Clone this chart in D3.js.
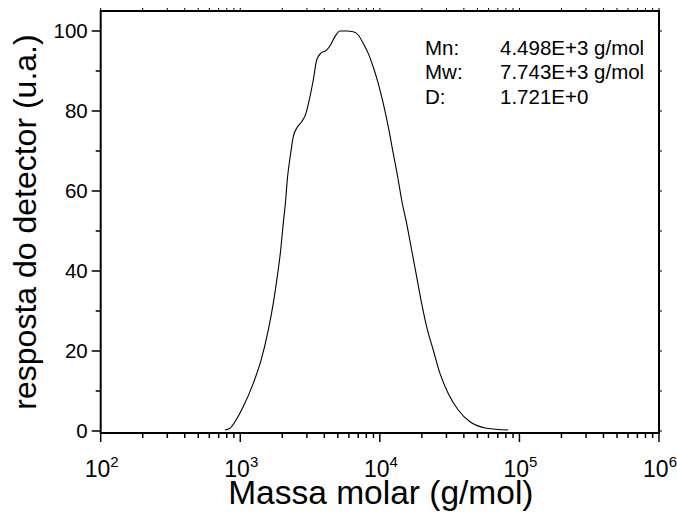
<!DOCTYPE html>
<html>
<head>
<meta charset="utf-8">
<script src="https://cdn.jsdelivr.net/npm/d3@7"></script>
<style>
  html, body { margin: 0; padding: 0; background: #fff; }
  svg { display: block; font-family: "Liberation Sans", Arial, sans-serif; }
</style>
</head>
<body>
<svg id="chart" width="677" height="515"></svg>
<script>
// Molar mass distribution (GPC) – detector response vs. molar mass
const molarMass = [776, 844, 916, 1051, 1239, 1423, 1587, 1723, 1841, 1947, 2032, 2115,
  2171, 2296, 2398, 2535, 2754, 2955, 3121, 3334, 3526, 3767, 4111, 4390, 4768, 5177,
  5783, 6449, 7003, 7605, 8259, 8969, 9739, 10577, 11487, 12474, 13547, 14326, 15557,
  16896, 18348, 19926, 21637, 24130, 26950, 30903, 36440, 44200, 58210, 83170];
const response = [0.25, 0.7, 2.3, 6.1, 11.9, 18.2, 25.2, 31.9, 38.6, 45.2, 51.9, 57.75,
  62.75, 69.4, 73.6, 75.7, 77.3, 79.4, 82.75, 87.75, 92.75, 94.4, 95.1, 96.25, 98.6, 100,
  100, 99.8, 99, 96.9, 94.4, 91, 86.9, 81.9, 76.1, 69.4, 62.75, 57.75, 51.9, 45.25,
  38.6, 31.9, 26.1, 20.25, 14.4, 9.4, 5.25, 2.3, 0.7, 0.25];

const xMajorExponents = [2, 3, 4, 5, 6];
const yMajorTicks = [0, 20, 40, 60, 80, 100];
const yMinorTicks = [10, 30, 50, 70, 90];

const statLabels = ["Mn:", "Mw:", "D:"];
const statValues = ["4.498E+3 g/mol", "7.743E+3 g/mol", "1.721E+0"];

const xTitle = "Massa molar (g/mol)";
const yTitle = "resposta do detector (u.a.)";

const svg = d3.select("#chart");
const plotLeft = 100.7, plotRight = 659, plotTop = 11, plotBottom = 433;

const x = d3.scaleLog().domain([1e2, 1e6]).range([plotLeft, plotRight]);
const y = d3.scaleLinear().domain([-0.5, 105]).range([plotBottom, plotTop]);

// minor ticks on the log axis: 2..9 × each decade
const xMinor = [];
for (let e = 2; e < 6; e++) for (let m = 2; m <= 9; m++) xMinor.push(m * Math.pow(10, e));
const xMajor = xMajorExponents.map(e => Math.pow(10, e));

const tickStroke = "#000";

// bottom axis
const gB = svg.append("g").attr("transform", `translate(0,${plotBottom})`);
gB.selectAll("line.maj").data(xMajor).join("line").attr("class", "maj")
  .attr("x1", d => x(d)).attr("x2", d => x(d)).attr("y1", 0).attr("y2", 9)
  .attr("stroke", tickStroke).attr("stroke-width", 1.5);
gB.selectAll("line.min").data(xMinor).join("line").attr("class", "min")
  .attr("x1", d => x(d)).attr("x2", d => x(d)).attr("y1", 0).attr("y2", 5)
  .attr("stroke", tickStroke).attr("stroke-width", 1.5);
const xl = gB.selectAll("text").data(xMajorExponents).join("text")
  .attr("x", d => x(Math.pow(10, d)) + 1)
  .attr("y", 44)
  .attr("text-anchor", "middle")
  .attr("font-size", 23)
  .attr("fill", "#000");
xl.append("tspan").text("10");
xl.append("tspan").attr("font-size", 15).attr("dy", -10).text(d => d);

// top axis (mirror, outward short ticks)
const gT = svg.append("g").attr("transform", `translate(0,${plotTop})`);
gT.selectAll("line").data(xMajor.concat(xMinor)).join("line")
  .attr("x1", d => x(d)).attr("x2", d => x(d)).attr("y1", 0).attr("y2", -3)
  .attr("stroke", tickStroke).attr("stroke-width", 1);

// left axis
const gL = svg.append("g").attr("transform", `translate(${plotLeft},0)`);
gL.selectAll("line.maj").data(yMajorTicks).join("line").attr("class", "maj")
  .attr("x1", 0).attr("x2", -9).attr("y1", d => y(d)).attr("y2", d => y(d))
  .attr("stroke", tickStroke).attr("stroke-width", 1.5);
gL.selectAll("line.min").data(yMinorTicks).join("line").attr("class", "min")
  .attr("x1", 0).attr("x2", -5).attr("y1", d => y(d)).attr("y2", d => y(d))
  .attr("stroke", tickStroke).attr("stroke-width", 1.5);
gL.selectAll("text").data(yMajorTicks).join("text")
  .attr("x", -13).attr("y", d => y(d)).attr("dy", "0.35em")
  .attr("text-anchor", "end").attr("font-size", 20.5).attr("fill", "#000")
  .text(d => d);

// right axis (mirror)
const gR = svg.append("g").attr("transform", `translate(${plotRight},0)`);
gR.selectAll("line").data(yMajorTicks.concat(yMinorTicks)).join("line")
  .attr("x1", 0).attr("x2", 3).attr("y1", d => y(d)).attr("y2", d => y(d))
  .attr("stroke", tickStroke).attr("stroke-width", 1);

// frame
svg.append("rect")
  .attr("x", plotLeft).attr("y", plotTop)
  .attr("width", plotRight - plotLeft).attr("height", plotBottom - plotTop)
  .attr("fill", "none").attr("stroke", "#000").attr("stroke-width", 2);

// distribution curve
const pts = molarMass.map((m, i) => [m, response[i]]);
const line = d3.line().x(d => x(d[0])).y(d => y(d[1])).curve(d3.curveMonotoneX);
svg.append("path").datum(pts)
  .attr("d", line).attr("fill", "none").attr("stroke", "#000").attr("stroke-width", 1.1);

// averages
const stats = svg.append("g").attr("font-size", 20.5).attr("fill", "#000");
statLabels.forEach((lab, i) => {
  stats.append("text").attr("x", 425).attr("y", 55 + i * 24.3).text(lab);
  stats.append("text").attr("x", 500).attr("y", 55 + i * 24.3).text(statValues[i]);
});

// axis titles
svg.append("text")
  .attr("x", (plotLeft + plotRight) / 2 + 1).attr("y", 504)
  .attr("text-anchor", "middle").attr("font-size", 33.5).attr("fill", "#000")
  .text(xTitle);
svg.append("text")
  .attr("transform", `translate(36,${(plotTop + plotBottom) / 2}) rotate(-90)`)
  .attr("text-anchor", "middle").attr("font-size", 32).attr("fill", "#000")
  .text(yTitle);
</script>
</body>
</html>
